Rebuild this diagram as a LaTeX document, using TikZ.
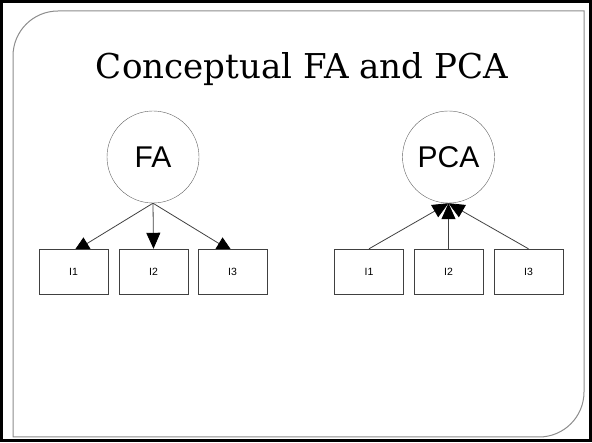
\documentclass[tikz,border=0pt]{standalone}
\usepackage{graphicx}
\usepackage{fontspec}
\setmainfont{Liberation Sans}
\newfontfamily\titlefont{DejaVu Serif}
\usetikzlibrary{arrows.meta,backgrounds}
\definecolor{framegray}{HTML}{8C8C8C}
\definecolor{circlegray}{HTML}{606060}
\definecolor{linegray}{HTML}{404040}

\begin{document}
\begin{tikzpicture}
[
x=1pt,y=1pt,
factor/.style={draw=circlegray,circle,minimum size=92pt,inner sep=0pt,font=\fontsize{30}{30}\selectfont},
item/.style={draw=linegray,fill=white,minimum width=69pt,minimum height=45pt,inner sep=0pt,font=\fontsize{10.5}{10.5}\selectfont},
link/.style={draw=linegray,line width=0.8pt,-{Triangle[length=16pt,width=14pt,color=black]}},
]
\useasboundingbox (0,0) rectangle (592,442);

%Slide frame
\draw[line width=3pt] (1.5,1.5) rectangle (590.5,440.5);
\draw[framegray,line width=1pt] (13,5) -- (13,386) arc[start angle=180,end angle=90,radius=45]
  -- (584,431) -- (584,50) arc[start angle=0,end angle=-90,radius=45] -- cycle;

%Place the nodes
\node[anchor=base,inner sep=0pt] (title) at (302,363) {\titlefont\resizebox{412pt}{26pt}{Conceptual FA and PCA}};

\node[factor] (fa) at (153,285) {FA};
\node[item] (fa1) at (73.5,170.5) {I1};
\node[item] (fa2) at (153.5,170.5) {I2};
\node[item] (fa3) at (232.5,170.5) {I3};

\node[factor] (pca) at (448.5,285) {PCA};
\node[item] (pca1) at (369,170.5) {I1};
\node[item] (pca2) at (448.5,170.5) {I2};
\node[item] (pca3) at (528.5,170.5) {I3};

%Draw the connections
\begin{pgfonlayer}{background}
\draw[link] (fa.south) -- ([yshift=-3pt]fa1.north);
\draw[link] (fa.south) -- (fa2.north);
\draw[link] (fa.south) -- ([yshift=-3pt]fa3.north);
\end{pgfonlayer}

\draw[link] (pca1.north) -- (pca.south);
\draw[link] (pca2.north) -- (pca.south);
\draw[link] (pca3.north) -- (pca.south);
\end{tikzpicture}
\end{document}
